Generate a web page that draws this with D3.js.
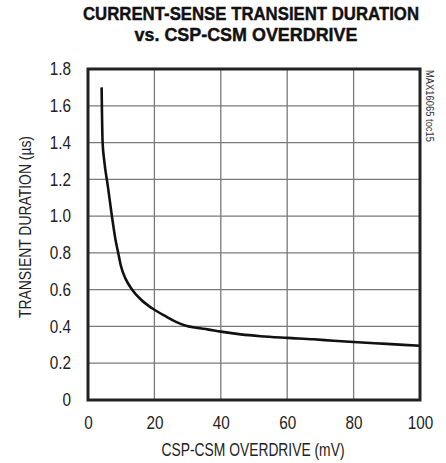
<!DOCTYPE html>
<html><head><meta charset="utf-8">
<script src="https://cdn.jsdelivr.net/npm/d3@7"></script>
<style>body{margin:0;background:#fff}svg{display:block}</style>
</head><body>
<svg id="c" width="446" height="463"></svg>
<script>
const overdrive = [4.1,4.4,4.9,6.0,7.2,8.3,9.1,9.9,11.3,13.3,16,19.2,23.7,26.5,29.5,33,36,40,46,52,60,68,74,80,90,100];
const duration  = [1.70,1.40,1.30,1.16,1.00,0.87,0.80,0.73,0.66,0.60,0.545,0.50,0.452,0.425,0.404,0.392,0.384,0.372,0.357,0.347,0.338,0.33,0.322,0.315,0.305,0.295];
const xTicks = [0,20,40,60,80,100];
const yTicks = [0,0.2,0.4,0.6,0.8,1.0,1.2,1.4,1.6,1.8];
const titleLines = ["CURRENT-SENSE TRANSIENT DURATION","vs. CSP-CSM OVERDRIVE"];

const svg = d3.select("#c");
const L=88, R=420, T=69, B=400;
const x = d3.scaleLinear().domain([0,100]).range([L,R]);
const y = d3.scaleLinear().domain([0,1.8]).range([B,T]);
const font = "'Liberation Sans','Arial',sans-serif";
const SX = 0.85;

// grid
svg.append("g").selectAll("line").data(xTicks.slice(1,-1)).join("line")
  .attr("x1",d=>x(d)).attr("x2",d=>x(d)).attr("y1",T).attr("y2",B)
  .attr("stroke","#7a7a7a").attr("stroke-width",1.3);
svg.append("g").selectAll("line").data(yTicks.slice(1,-1)).join("line")
  .attr("y1",d=>y(d)).attr("y2",d=>y(d)).attr("x1",L).attr("x2",R)
  .attr("stroke","#7a7a7a").attr("stroke-width",1.3);

// curve
svg.append("path").datum(overdrive.map((d,i)=>[d,duration[i]]))
  .attr("d", d3.line().x(d=>x(d[0])).y(d=>y(d[1])).curve(d3.curveMonotoneX))
  .attr("fill","none").attr("stroke","#111").attr("stroke-width",2.6);

// frame
svg.append("rect").attr("x",L).attr("y",T).attr("width",R-L).attr("height",B-T)
  .attr("fill","none").attr("stroke","#222").attr("stroke-width",3);

// axes tick labels
const xa = svg.append("g").attr("transform",`translate(0,${B})`)
  .call(d3.axisBottom(x).tickValues(xTicks).tickSize(0).tickPadding(16).tickFormat(d3.format("d")));
const ya = svg.append("g").attr("transform",`translate(${L},0)`)
  .call(d3.axisLeft(y).tickValues(yTicks).tickSize(0).tickPadding(17).tickFormat(d=>d===0?"0":d3.format(".1f")(d)));
[xa,ya].forEach(a=>{a.select(".domain").remove();
  a.selectAll("text").attr("font-family",font).attr("font-size",18).attr("fill","#222")
   .attr("transform",`scale(${SX},1)`);});
ya.selectAll("text").attr("x",-17/SX);

// titles
svg.append("text").attr("x",251).attr("y",20).attr("text-anchor","middle")
  .attr("font-family",font).attr("font-weight","bold").attr("font-size",17.5)
  .attr("textLength",336).attr("lengthAdjust","spacingAndGlyphs").attr("fill","#111")
  .attr("stroke","#111").attr("stroke-width",0.4)
  .text(titleLines[0]);
svg.append("text").attr("x",246).attr("y",41).attr("text-anchor","middle")
  .attr("font-family",font).attr("font-weight","bold").attr("font-size",17.5)
  .attr("textLength",223).attr("lengthAdjust","spacingAndGlyphs").attr("fill","#111")
  .attr("stroke","#111").attr("stroke-width",0.4)
  .text(titleLines[1]);

svg.append("text").attr("x",253).attr("y",456).attr("text-anchor","middle")
  .attr("font-family",font).attr("font-size",18).attr("fill","#222")
  .attr("textLength",183).attr("lengthAdjust","spacingAndGlyphs")
  .text("CSP-CSM OVERDRIVE (mV)");
svg.append("text").attr("transform","translate(31,227) rotate(-90)").attr("text-anchor","middle")
  .attr("font-family",font).attr("font-size",17).attr("fill","#222")
  .attr("textLength",182).attr("lengthAdjust","spacingAndGlyphs")
  .text("TRANSIENT DURATION (µs)");
svg.append("text").attr("transform","translate(425.5,70) rotate(90)").attr("text-anchor","start")
  .attr("font-family",font).attr("font-size",10).attr("fill","#333")
  .attr("textLength",72).attr("lengthAdjust","spacingAndGlyphs")
  .text("MAX16065 toc15");
</script>
</body></html>
